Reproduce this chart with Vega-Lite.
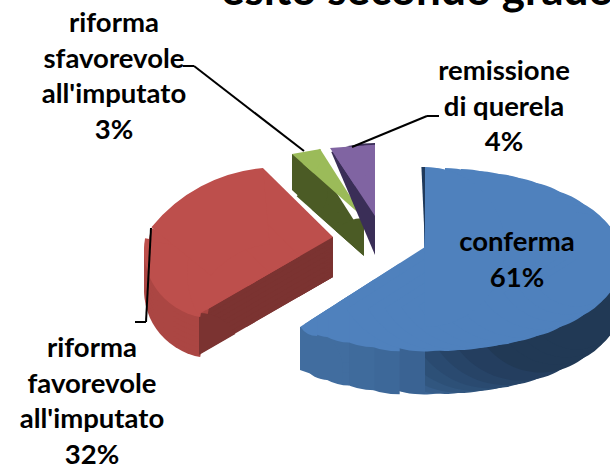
{"$schema":"https://vega.github.io/schema/vega-lite/v6.json","width":610,"height":466,"padding":0,"autosize":{"type":"none"},"background":"white","view":{"stroke":null},
"data":{"values":[{"esito":"conferma","value":61,"label":"conferma\n61%"},{"esito":"riforma favorevole all'imputato","value":32,"label":"riforma\nfavorevole\nall'imputato\n32%"},{"esito":"riforma sfavorevole all'imputato","value":3,"label":"riforma\nsfavorevole\nall'imputato\n3%"},{"esito":"remissione di querela","value":4,"label":"remissione\ndi querela\n4%"}]},
"transform":[{"stack":"value","as":["v0","v1"]}],
"resolve":{"scale":{"theta":"independent"}},
"layer":[
{"transform":[{"filter":"datum.value==61"}],"encoding":{"x":{"value":0},"y":{"value":0},"theta":{"field":"v0","type":"quantitative","stack":null,"scale":{"domain":[0,61],"range":[0,4.143],"clamp":true}},"theta2":{"field":"v1"}},
"layer":[
{"mark":{"type":"arc","xOffset":424,"yOffset":302.5,"outerRadius":92,"color":"#3b6595"}},
{"mark":{"type":"arc","xOffset":445,"yOffset":302.5,"outerRadius":91.5,"color":"#365d8a"}},
{"mark":{"type":"arc","xOffset":461,"yOffset":302.5,"outerRadius":90.5,"color":"#31567f"}},
{"mark":{"type":"arc","xOffset":476,"yOffset":302.5,"outerRadius":88.5,"color":"#2d5077"}},
{"mark":{"type":"arc","xOffset":491,"yOffset":302.5,"outerRadius":86,"color":"#2a4a70"}},
{"mark":{"type":"arc","xOffset":506,"yOffset":302.5,"outerRadius":82.5,"color":"#274467"}},
{"mark":{"type":"arc","xOffset":521,"yOffset":302.5,"outerRadius":78,"color":"#243e5f"}},
{"mark":{"type":"arc","xOffset":541,"yOffset":302.5,"outerRadius":70,"color":"#213955"}},
{"mark":{"type":"arc","xOffset":556,"yOffset":302.5,"outerRadius":62,"color":"#213955"}},
{"mark":{"type":"arc","xOffset":566,"yOffset":302.5,"outerRadius":55,"color":"#213955"}},
{"mark":{"type":"arc","xOffset":576,"yOffset":302.5,"outerRadius":47,"color":"#213955"}}
]},
{"transform":[{"filter":"datum.value==61"}],"encoding":{"x":{"value":0},"y":{"value":0},"theta":{"field":"v0","type":"quantitative","stack":null,"scale":{"domain":[46.25,61],"range":[3.1416,4.143],"clamp":true}},"theta2":{"field":"v1"}},
"layer":[
{"mark":{"type":"arc","xOffset":425,"yOffset":290,"outerRadius":104,"color":"#3a6393"}},
{"mark":{"type":"arc","xOffset":399.7,"yOffset":306.2,"outerRadius":88,"color":"#3d6899"}},
{"mark":{"type":"arc","xOffset":374.5,"yOffset":322.3,"outerRadius":68,"color":"#3f6b9c"}},
{"mark":{"type":"arc","xOffset":349.2,"yOffset":338.5,"outerRadius":47,"color":"#416d9f"}},
{"mark":{"type":"arc","xOffset":328.2,"yOffset":352,"outerRadius":28,"color":"#416d9f"}},
{"mark":{"type":"arc","xOffset":349.2,"yOffset":325.5,"outerRadius":47,"color":"#416d9f"}},
{"mark":{"type":"arc","xOffset":349.2,"yOffset":315.5,"outerRadius":47,"color":"#416d9f"}}
]},
{"transform":[{"filter":"datum.value==61"}],"encoding":{"x":{"value":0},"y":{"value":0},"theta":{"field":"v0","type":"quantitative","stack":null,"scale":{"domain":[0,61],"range":[0,1.9],"clamp":true}},"theta2":{"field":"v1"}},
"layer":[{"mark":{"type":"arc","xOffset":300,"yOffset":370,"outerRadius":43,"color":"#416d9f"}}]},
{"transform":[{"filter":"datum.value==61"}],"encoding":{"x":{"value":0},"y":{"value":0},"theta":{"field":"v0","type":"quantitative","stack":null,"scale":{"domain":[46.25,61],"range":[3.1416,4.143],"clamp":true}},"theta2":{"field":"v1"}},
"layer":[
{"mark":{"type":"arc","xOffset":425,"yOffset":247,"outerRadius":104,"color":"#4f81bd"}},
{"mark":{"type":"arc","xOffset":399.7,"yOffset":263.2,"outerRadius":88,"color":"#4f81bd"}},
{"mark":{"type":"arc","xOffset":374.5,"yOffset":279.3,"outerRadius":68,"color":"#4f81bd"}},
{"mark":{"type":"arc","xOffset":349.2,"yOffset":295.5,"outerRadius":47,"color":"#4f81bd"}},
{"mark":{"type":"arc","xOffset":328.2,"yOffset":309,"outerRadius":28,"color":"#4f81bd"}},
{"mark":{"type":"arc","xOffset":317.2,"yOffset":316,"outerRadius":20,"color":"#4f81bd"}}
]},
{"transform":[{"filter":"datum.value==61"}],"encoding":{"x":{"value":0},"y":{"value":0},"theta":{"field":"v0","type":"quantitative","stack":null,"scale":{"domain":[0,61],"range":[0,4.143],"clamp":true}},"theta2":{"field":"v1"}},
"layer":[
{"mark":{"type":"arc","xOffset":424,"yOffset":259.5,"outerRadius":92,"color":"#4f81bd"}},
{"mark":{"type":"arc","xOffset":445,"yOffset":259.5,"outerRadius":91.5,"color":"#4f81bd"}},
{"mark":{"type":"arc","xOffset":461,"yOffset":259.5,"outerRadius":90.5,"color":"#4f81bd"}},
{"mark":{"type":"arc","xOffset":476,"yOffset":259.5,"outerRadius":88.5,"color":"#4f81bd"}},
{"mark":{"type":"arc","xOffset":491,"yOffset":259.5,"outerRadius":86,"color":"#4f81bd"}},
{"mark":{"type":"arc","xOffset":506,"yOffset":259.5,"outerRadius":82.5,"color":"#4f81bd"}},
{"mark":{"type":"arc","xOffset":521,"yOffset":259.5,"outerRadius":78,"color":"#4f81bd"}},
{"mark":{"type":"arc","xOffset":541,"yOffset":259.5,"outerRadius":70,"color":"#4f81bd"}},
{"mark":{"type":"arc","xOffset":556,"yOffset":259.5,"outerRadius":62,"color":"#4f81bd"}},
{"mark":{"type":"arc","xOffset":566,"yOffset":259.5,"outerRadius":55,"color":"#4f81bd"}},
{"mark":{"type":"arc","xOffset":576,"yOffset":259.5,"outerRadius":47,"color":"#4f81bd"}}
]},
{"transform":[{"filter":"datum.value==61"}],"encoding":{"x":{"value":0},"y":{"value":0},"theta":{"field":"v0","type":"quantitative","stack":null,"scale":{"domain":[0,1],"range":[-0.045,0],"clamp":true}},"theta2":{"field":"v1"}},
"layer":[{"mark":{"type":"arc","xOffset":425,"yOffset":247,"outerRadius":80,"color":"#1f3a5c"}}]},
{"transform":[{"filter":"datum.value==61"}],"encoding":{"x":{"value":0},"y":{"value":0},"theta":{"field":"v0","type":"quantitative","stack":null,"scale":{"domain":[0,46.25],"range":[0,3.1416],"clamp":true}},"theta2":{"field":"v1"}},
"layer":[{"mark":{"type":"arc","xOffset":425,"yOffset":247,"outerRadius":80,"color":"#4f81bd"}}]},

{"transform":[{"filter":"datum.value==32"}],"encoding":{"x":{"value":0},"y":{"value":0},"theta":{"field":"v0","type":"quantitative","stack":null,"scale":{"domain":[61,86.74],"range":[4.189,5.236],"clamp":true}},"theta2":{"field":"v1"}},
"layer":[
{"mark":{"type":"arc","xOffset":333,"yOffset":277,"outerRadius":100,"color":"#7b3331"}},
{"mark":{"type":"arc","xOffset":333,"yOffset":267,"outerRadius":100,"color":"#7b3331"}},
{"mark":{"type":"arc","xOffset":333,"yOffset":257,"outerRadius":100,"color":"#7b3331"}}
]},
{"transform":[{"filter":"datum.value==32"}],"encoding":{"x":{"value":0},"y":{"value":0},"theta":{"field":"v0","type":"quantitative","stack":null,"scale":{"domain":[61,93],"range":[4.189,6.283],"clamp":true}},"theta2":{"field":"v1"}},
"layer":[{"mark":{"type":"arc","xOffset":333,"yOffset":277,"outerRadius":40,"color":"#7b3331"}}]},
{"transform":[{"filter":"datum.value==32"}],"encoding":{"x":{"value":0},"y":{"value":0},"theta":{"field":"v0","type":"quantitative","stack":null,"scale":{"domain":[61,70],"range":[4.189,4.573],"clamp":true}},"theta2":{"field":"v1"}},
"layer":[
{"mark":{"type":"arc","xOffset":333,"yOffset":277,"outerRadius":156,"color":"#7b3331"}},
{"mark":{"type":"arc","xOffset":333,"yOffset":272,"outerRadius":156,"color":"#7b3331"}},
{"mark":{"type":"arc","xOffset":333,"yOffset":267,"outerRadius":156,"color":"#7b3331"}},
{"mark":{"type":"arc","xOffset":333,"yOffset":262,"outerRadius":156,"color":"#7b3331"}},
{"mark":{"type":"arc","xOffset":333,"yOffset":257,"outerRadius":156,"color":"#7b3331"}},
{"mark":{"type":"arc","xOffset":333,"yOffset":252,"outerRadius":156,"color":"#7b3331"}},
{"mark":{"type":"arc","xOffset":333,"yOffset":247,"outerRadius":156,"color":"#7b3331"}},
{"mark":{"type":"arc","xOffset":333,"yOffset":242,"outerRadius":156,"color":"#7b3331"}}
]},
{"transform":[{"filter":"datum.value==32"}],"encoding":{"x":{"value":0},"y":{"value":0},"theta":{"field":"v0","type":"quantitative","stack":null,"scale":{"domain":[61,93],"range":[3.316,4.887],"clamp":true}},"theta2":{"field":"v1"}},
"layer":[
{"mark":{"type":"arc","xOffset":212,"yOffset":290,"outerRadius":68,"color":"#ab4643"}},
{"mark":{"type":"arc","xOffset":212,"yOffset":285,"outerRadius":68,"color":"#ab4643"}},
{"mark":{"type":"arc","xOffset":212,"yOffset":280,"outerRadius":68,"color":"#ab4643"}},
{"mark":{"type":"arc","xOffset":212,"yOffset":275,"outerRadius":68,"color":"#ab4643"}},
{"mark":{"type":"arc","xOffset":212,"yOffset":270,"outerRadius":68,"color":"#ab4643"}},
{"mark":{"type":"arc","xOffset":212,"yOffset":265,"outerRadius":68,"color":"#ab4643"}},
{"mark":{"type":"arc","xOffset":212,"yOffset":260,"outerRadius":68,"color":"#ab4643"}},
{"mark":{"type":"arc","xOffset":212,"yOffset":255,"outerRadius":68,"color":"#ab4643"}}
]},
{"transform":[{"filter":"datum.value==32"}],"encoding":{"x":{"value":0},"y":{"value":0},"theta":{"field":"v0","type":"quantitative","stack":null,"scale":{"domain":[61,93],"range":[0,1.047],"clamp":true}},"theta2":{"field":"v1"}},
"layer":[{"mark":{"type":"arc","xOffset":199,"yOffset":355,"outerRadius":42,"color":"#7b3331"}}]},
{"transform":[{"filter":"datum.value==32"}],"encoding":{"x":{"value":0},"y":{"value":0},"theta":{"field":"v0","type":"quantitative","stack":null,"scale":{"domain":[61,93],"range":[3.316,4.887],"clamp":true}},"theta2":{"field":"v1"}},
"layer":[{"mark":{"type":"arc","xOffset":212,"yOffset":250,"outerRadius":68,"color":"#bd4f4c"}}]},
{"transform":[{"filter":"datum.value==32"}],"encoding":{"x":{"value":0},"y":{"value":0},"theta":{"field":"v0","type":"quantitative","stack":null,"scale":{"domain":[61,93],"range":[4.85,5.06],"clamp":true}},"theta2":{"field":"v1"}},
"layer":[{"mark":{"type":"arc","xOffset":212,"yOffset":250,"outerRadius":64,"color":"#bd4f4c"}}]},
{"transform":[{"filter":"datum.value==32"}],"encoding":{"x":{"value":0},"y":{"value":0},"theta":{"field":"v0","type":"quantitative","stack":null,"scale":{"domain":[61,93],"range":[5.06,5.24],"clamp":true}},"theta2":{"field":"v1"}},
"layer":[{"mark":{"type":"arc","xOffset":212,"yOffset":250,"outerRadius":60,"color":"#bd4f4c"}}]},
{"transform":[{"filter":"datum.value==32"}],"encoding":{"x":{"value":0},"y":{"value":0},"theta":{"field":"v0","type":"quantitative","stack":null,"scale":{"domain":[61,93],"range":[4.189,5.49],"clamp":true}},"theta2":{"field":"v1"}},
"layer":[
{"mark":{"type":"arc","xOffset":333,"yOffset":237,"outerRadius":98,"color":"#bd4f4c"}},
{"mark":{"type":"arc","xOffset":300,"yOffset":256,"outerRadius":108,"color":"#bd4f4c"}},
{"mark":{"type":"arc","xOffset":270,"yOffset":273,"outerRadius":83,"color":"#bd4f4c"}}
]},
{"transform":[{"filter":"datum.value==32"}],"encoding":{"x":{"value":0},"y":{"value":0},"theta":{"field":"v0","type":"quantitative","stack":null,"scale":{"domain":[61,93],"range":[5.393,6.196],"clamp":true}},"theta2":{"field":"v1"}},
"layer":[{"mark":{"type":"arc","xOffset":277,"yOffset":329,"innerRadius":85,"outerRadius":161.6,"color":"#bd4f4c"}}]},

{"transform":[{"filter":"datum.value==3"}],"encoding":{"x":{"value":0},"y":{"value":0},"theta":{"field":"v0","type":"quantitative","stack":null,"scale":{"domain":[93,94.2],"range":[5.438,5.55],"clamp":true}},"theta2":{"field":"v1"}},
"layer":[
{"mark":{"type":"arc","xOffset":364,"yOffset":256,"outerRadius":90,"color":"#4b5b25"}},
{"mark":{"type":"arc","xOffset":364,"yOffset":250,"outerRadius":90,"color":"#4b5b25"}},
{"mark":{"type":"arc","xOffset":364,"yOffset":244,"outerRadius":90,"color":"#4b5b25"}},
{"mark":{"type":"arc","xOffset":364,"yOffset":238,"outerRadius":90,"color":"#4b5b25"}},
{"mark":{"type":"arc","xOffset":364,"yOffset":232,"outerRadius":90,"color":"#4b5b25"}}
]},
{"transform":[{"filter":"datum.value==3"}],"encoding":{"x":{"value":0},"y":{"value":0},"theta":{"field":"v0","type":"quantitative","stack":null,"scale":{"domain":[93,96],"range":[5.438,5.716],"clamp":true}},"theta2":{"field":"v1"}},
"layer":[
{"mark":{"type":"arc","xOffset":364,"yOffset":256,"outerRadius":70,"color":"#4b5b25"}},
{"mark":{"type":"arc","xOffset":364,"yOffset":246,"outerRadius":70,"color":"#4b5b25"}},
{"mark":{"type":"arc","xOffset":364,"yOffset":236,"outerRadius":70,"color":"#4b5b25"}}
]},
{"transform":[{"filter":"datum.value==3"}],"encoding":{"x":{"value":0},"y":{"value":0},"theta":{"field":"v0","type":"quantitative","stack":null,"scale":{"domain":[93,96],"range":[5.438,6.283],"clamp":true}},"theta2":{"field":"v1"}},
"layer":[{"mark":{"type":"arc","xOffset":364,"yOffset":256,"outerRadius":38,"color":"#4b5b25"}}]},
{"transform":[{"filter":"datum.value==3"}],"encoding":{"x":{"value":0},"y":{"value":0},"theta":{"field":"v0","type":"quantitative","stack":null,"scale":{"domain":[93,96],"range":[0,2.32],"clamp":true}},"theta2":{"field":"v1"}},
"layer":[{"mark":{"type":"arc","xOffset":292,"yOffset":190,"outerRadius":36,"color":"#4b5b25"}}]},
{"transform":[{"filter":"datum.value==3"}],"encoding":{"x":{"value":0},"y":{"value":0},"theta":{"field":"v0","type":"quantitative","stack":null,"scale":{"domain":[93,96],"range":[5.438,5.716],"clamp":true}},"theta2":{"field":"v1"}},
"layer":[{"mark":{"type":"arc","xOffset":364,"yOffset":218,"outerRadius":82,"color":"#9bbb59"}}]},
{"transform":[{"filter":"datum.value==3"}],"encoding":{"x":{"value":0},"y":{"value":0},"theta":{"field":"v0","type":"quantitative","stack":null,"scale":{"domain":[93,96],"range":[1.396,2.297],"clamp":true}},"theta2":{"field":"v1"}},
"layer":[{"mark":{"type":"arc","xOffset":292,"yOffset":154,"outerRadius":29,"color":"#9bbb59"}}]},

{"transform":[{"filter":"datum.value==4"}],"encoding":{"x":{"value":0},"y":{"value":0},"theta":{"field":"v0","type":"quantitative","stack":null,"scale":{"domain":[96,100],"range":[5.882,6.283],"clamp":true}},"theta2":{"field":"v1"}},
"layer":[{"mark":{"type":"arc","xOffset":375,"yOffset":255,"outerRadius":112,"color":"#3a2e57"}}]},
{"transform":[{"filter":"datum.value==4"}],"encoding":{"x":{"value":0},"y":{"value":0},"theta":{"field":"v0","type":"quantitative","stack":null,"scale":{"domain":[96,100],"range":[5.698,6.283],"clamp":true}},"theta2":{"field":"v1"}},
"layer":[{"mark":{"type":"arc","xOffset":375,"yOffset":216,"outerRadius":71,"color":"#8064a2"}}]},
{"transform":[{"filter":"datum.value==4"}],"encoding":{"x":{"value":0},"y":{"value":0},"theta":{"field":"v0","type":"quantitative","stack":null,"scale":{"domain":[96,100],"range":[1.5,2.557],"clamp":true}},"theta2":{"field":"v1"}},
"layer":[{"mark":{"type":"arc","xOffset":330,"yOffset":148,"outerRadius":45,"color":"#8064a2"}}]},

{"transform":[{"filter":"datum.value==3"}],"layer":[
{"mark":{"type":"rule","color":"black","strokeWidth":2},"encoding":{"x":{"value":183},"x2":{"value":194},"y":{"value":66},"y2":{"value":66}}},
{"mark":{"type":"rule","color":"black","strokeWidth":2},"encoding":{"x":{"value":194},"x2":{"value":304},"y":{"value":66},"y2":{"value":151}}},
{"mark":{"type":"text","font":"Lato","fontWeight":"bold","fontSize":27.5,"lineHeight":35.5,"lineBreak":"\n","align":"center","baseline":"middle","color":"black","dx":-191,"dy":-209},"encoding":{"text":{"field":"label"}}}
]},
{"transform":[{"filter":"datum.value==4"}],"layer":[
{"mark":{"type":"rule","color":"black","strokeWidth":2},"encoding":{"x":{"value":439},"x2":{"value":427},"y":{"value":116},"y2":{"value":116}}},
{"mark":{"type":"rule","color":"black","strokeWidth":2},"encoding":{"x":{"value":427},"x2":{"value":352},"y":{"value":116},"y2":{"value":147}}},
{"mark":{"type":"text","font":"Lato","fontWeight":"bold","fontSize":27.5,"lineHeight":35.5,"lineBreak":"\n","align":"center","baseline":"middle","color":"black","dx":199,"dy":-161},"encoding":{"text":{"field":"label"}}}
]},
{"transform":[{"filter":"datum.value==32"}],"layer":[
{"mark":{"type":"rule","color":"black","strokeWidth":2},"encoding":{"x":{"value":151},"x2":{"value":146},"y":{"value":228},"y2":{"value":322}}},
{"mark":{"type":"rule","color":"black","strokeWidth":2},"encoding":{"x":{"value":146},"x2":{"value":135},"y":{"value":322},"y2":{"value":322}}},
{"mark":{"type":"text","font":"Lato","fontWeight":"bold","fontSize":27.5,"lineHeight":35.5,"lineBreak":"\n","align":"center","baseline":"middle","color":"black","dx":-213,"dy":116},"encoding":{"text":{"field":"label"}}}
]},
{"transform":[{"filter":"datum.value==61"}],"layer":[
{"mark":{"type":"text","font":"Lato","fontWeight":"bold","fontSize":27.5,"lineHeight":35.5,"lineBreak":"\n","align":"center","baseline":"middle","color":"black","dx":212,"dy":10},"encoding":{"text":{"field":"label"}}},
{"mark":{"type":"text","font":"Lato","fontWeight":"bold","fontSize":44,"align":"left","baseline":"alphabetic","color":"black","dx":-84,"dy":-228},"encoding":{"text":{"value":"esito secondo grado"}}}
]}
]}
